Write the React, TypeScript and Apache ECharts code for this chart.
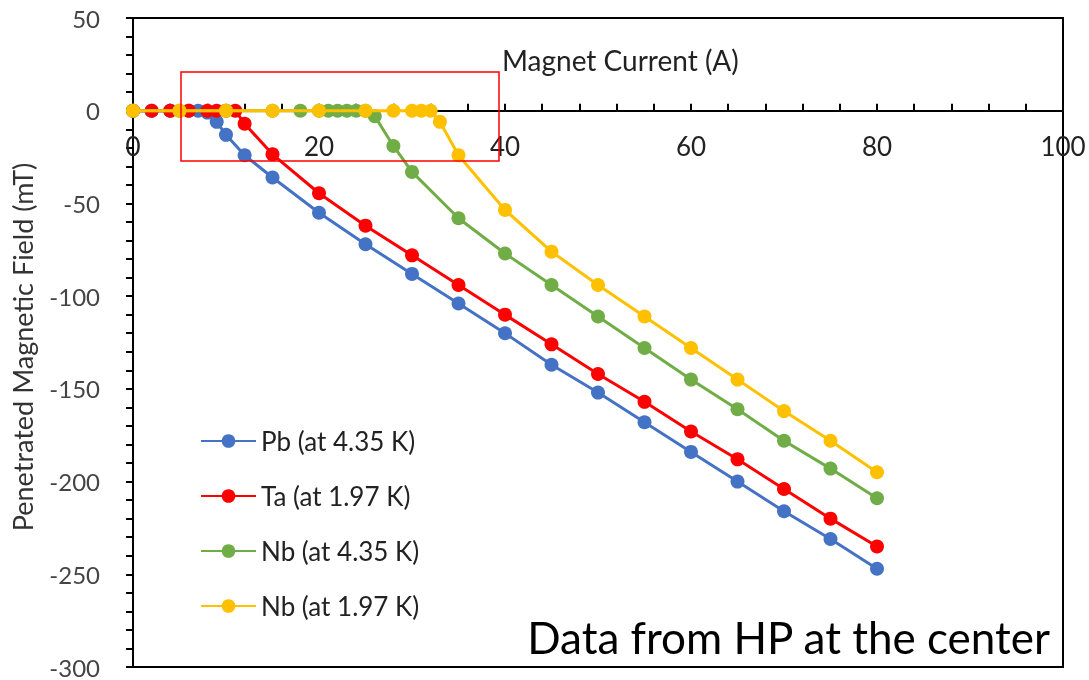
import React, { useEffect, useRef } from "react";
import * as echarts from "echarts";

// Magnet current (A) and penetrated magnetic field (mT) per sample
const pbX = [0, 2, 4, 6, 7, 8, 9, 10, 12, 15, 20, 25, 30, 35, 40, 45, 50, 55, 60, 65, 70, 75, 80];
const pbY = [0, 0, 0, 0, 0, -1, -6, -13, -24, -36, -55, -72, -88, -104, -120, -137, -152, -168, -184, -200, -216, -231, -247];

const taX = [0, 2, 4, 6, 8, 9, 10, 11, 12, 15, 20, 25, 30, 35, 40, 45, 50, 55, 60, 65, 70, 75, 80];
const taY = [0, 0, 0, 0, 0, 0, 0, 0, -7, -23.5, -44.5, -62, -78, -94, -110, -126, -142, -157, -173, -188, -204, -220, -235];

const nb435X = [0, 5, 10, 15, 18, 20, 21, 22, 23, 24, 25, 26, 28, 30, 35, 40, 45, 50, 55, 60, 65, 70, 75, 80];
const nb435Y = [0, 0, 0, 0, 0, 0, 0, 0, 0, 0, 0, -3, -19, -33, -58, -77, -94, -111, -128, -145, -161, -178, -193, -209];

const nb197X = [0, 5, 10, 15, 20, 25, 28, 30, 31, 32, 33, 35, 40, 45, 50, 55, 60, 65, 70, 75, 80];
const nb197Y = [0, 0, 0, 0, 0, 0, 0, 0, 0, 0, -6, -24, -53.5, -76, -94, -111, -128, -145, -162, -178, -195];

const seriesNames = ["Pb (at 4.35 K)", "Ta (at 1.97 K)", "Nb (at 4.35 K)", "Nb (at 1.97 K)"];
const seriesX = [pbX, taX, nb435X, nb197X];
const seriesY = [pbY, taY, nb435Y, nb197Y];
const colors = ["#4472C4", "#FF0000", "#70AD47", "#FFC000"];

const xTitle = "Magnet Current (A)";
const yTitle = "Penetrated Magnetic Field (mT)";
const note = "Data from HP at the center";

const X_MIN = 0;
const X_MAX = 100;
const Y_MIN = -300;
const Y_MAX = 50;

const FONT = "Lato, 'Open Sans', sans-serif";

const W = 1089;
const H = 680;
const GRID = { left: 133, right: 26, top: 18, bottom: 13 };

export default function App() {
  const ref = useRef<HTMLDivElement>(null);

  useEffect(() => {
    const chart = echarts.init(ref.current!, null, { renderer: "svg" });
    const gridH = H - GRID.top - GRID.bottom;
    // move the x axis from the grid bottom up to y = 0
    const xAxisOffset = -(gridH * (0 - Y_MIN)) / (Y_MAX - Y_MIN);
    const legendTops = [423, 478, 533, 588];
    chart.setOption({
      animation: false,
      grid: {
        ...GRID,
        show: true,
        borderColor: "#000",
        borderWidth: 2,
        containLabel: false,
        outerBoundsMode: "none",
      },
      xAxis: {
        type: "value",
        min: X_MIN,
        max: X_MAX,
        interval: 20,
        position: "bottom",
        offset: xAxisOffset,
        axisLine: { onZero: false, lineStyle: { color: "#000", width: 2 } },
        axisTick: { inside: true, length: 7, lineStyle: { color: "#000", width: 2 } },
        minorTick: { show: true, splitNumber: 5, length: 7, lineStyle: { color: "#000", width: 2 } },
        axisLabel: { fontSize: 26, color: "#222", margin: 22, fontFamily: FONT },
        splitLine: { show: false },
      },
      yAxis: {
        type: "value",
        min: Y_MIN,
        max: Y_MAX,
        interval: 50,
        axisLine: { show: true, onZero: false, lineStyle: { color: "#000", width: 2 } },
        axisTick: { show: true, length: 7, lineStyle: { color: "#000", width: 2 } },
        minorTick: { show: true, splitNumber: 5, length: 7, lineStyle: { color: "#000", width: 2 } },
        axisLabel: { fontSize: 24, color: "#444", margin: 33, fontFamily: FONT },
        splitLine: { show: false },
      },
      legend: seriesNames.map((n, i) => ({
        data: [n],
        left: 195,
        top: legendTops[i],
        itemWidth: 55,
        itemHeight: 17,
        itemGap: 7,
        textStyle: { fontSize: 26, color: "#222", fontFamily: FONT },
      })),
      series: seriesNames.map((n, i) => ({
        name: n,
        type: "line",
        data: seriesX[i].map((x, j) => [x, seriesY[i][j]]),
        symbol: "circle",
        symbolSize: 14,
        showAllSymbol: true,
        lineStyle: { color: colors[i], width: 3 },
        itemStyle: { color: colors[i] },
        z: 2 + i,
      })),
      graphic: [
        {
          type: "text",
          x: 502,
          y: 60,
          style: { text: xTitle, fontSize: 28, fill: "#222", fontFamily: FONT, verticalAlign: "middle" },
        },
        {
          type: "text",
          x: 22,
          y: 347,
          rotation: Math.PI / 2,
          style: {
            text: yTitle,
            fontSize: 27,
            fill: "#333",
            fontFamily: FONT,
            align: "center",
            verticalAlign: "middle",
          },
        },
        {
          type: "text",
          x: 1050,
          y: 637,
          style: {
            text: note,
            fontSize: 44,
            fill: "#000",
            fontFamily: FONT,
            align: "right",
            verticalAlign: "middle",
          },
        },
        {
          type: "rect",
          shape: { x: 181, y: 72, width: 318, height: 89 },
          style: { fill: "none", stroke: "#FF0000", lineWidth: 1.5 },
          z: 100,
        },
      ],
    });
    return () => chart.dispose();
  }, []);

  return (
    <div
      ref={ref}
      style={{ position: "fixed", left: 0, top: 0, width: W, height: H }}
    />
  );
}
